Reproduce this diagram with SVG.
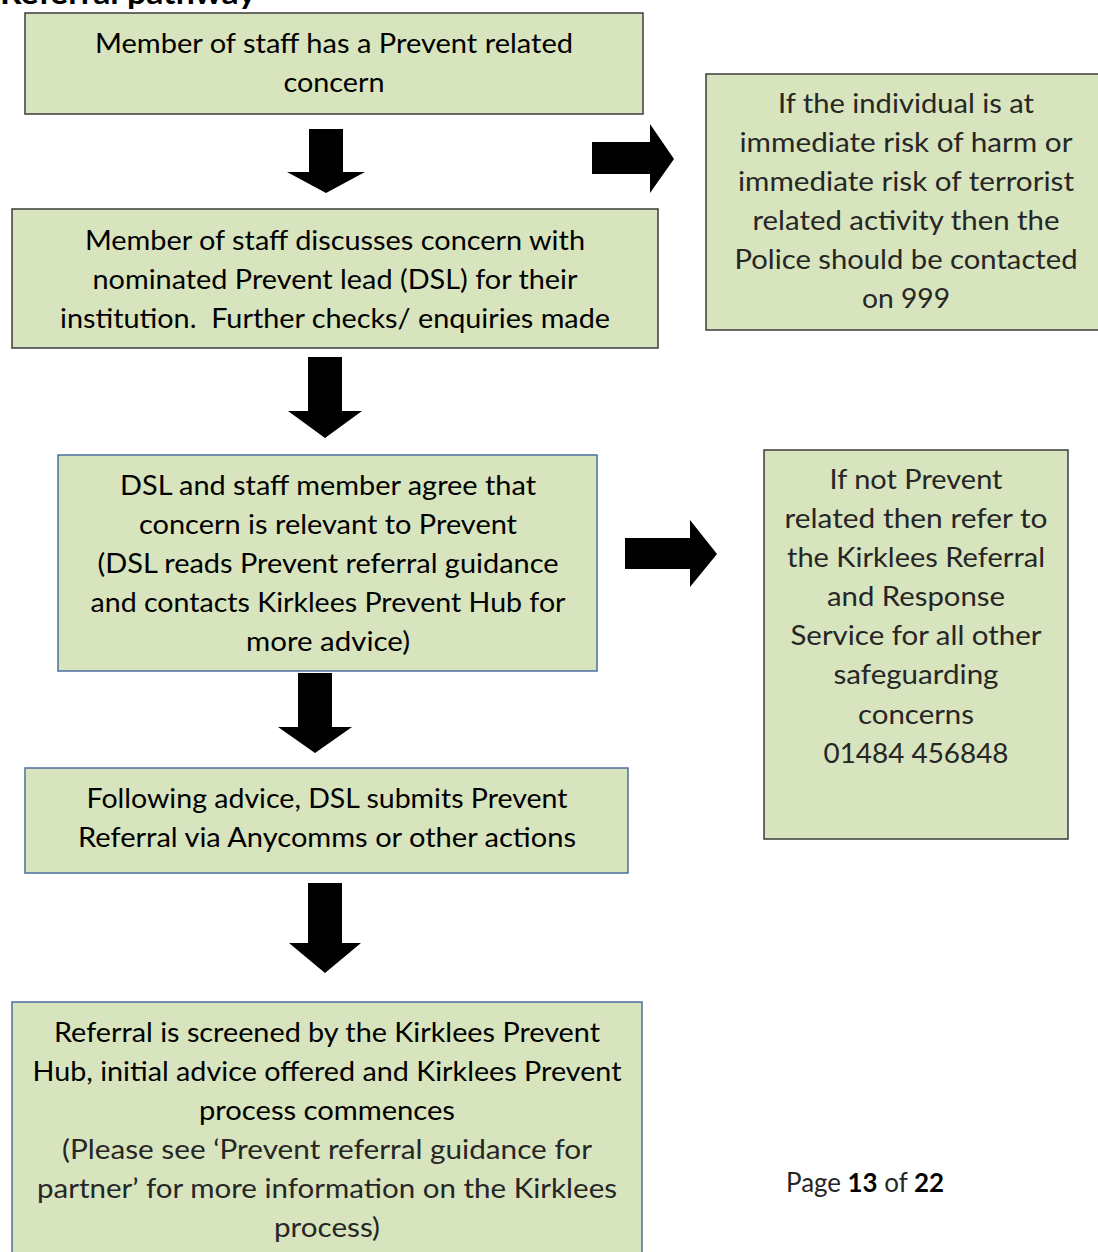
<svg xmlns="http://www.w3.org/2000/svg" width="1098" height="1252" viewBox="0 0 1098 1252">
<style>
.box{fill:#d7e4bd;stroke-width:1.5}
.dk{stroke:#3c3c3c}
.bl{stroke:#4a6fa0}
.t{font-family:Lato,"Open Sans","Liberation Sans",sans-serif;font-size:26px;fill:#000;text-anchor:middle}
.l{font-weight:400;fill:#262626}
.arrow{fill:#000}
</style>
<rect width="1098" height="1252" fill="#fff"/>
<text x="0" y="4" font-family="Lato,'Liberation Sans',sans-serif" font-weight="bold" font-size="30" textLength="256" lengthAdjust="spacingAndGlyphs">Referral pathway</text>

<g id="connectors">
<polygon class="arrow" points="309,129 343,129 343,172 365,172 326,193 287,172 309,172"/>
<polygon class="arrow" points="592,142 650,142 650,124 674,159 650,193 650,174 592,174"/>
<polygon class="arrow" points="308,357 342,357 342,411 362,411 325,438 288,411 308,411"/>
<polygon class="arrow" points="625,538 690,538 690,520 717,554 690,587 690,569 625,569"/>
<polygon class="arrow" points="298,673 332,673 332,727 352,727 315,753 278,727 298,727"/>
<polygon class="arrow" points="308,883 342,883 342,943 361,943 325,973 289,943 308,943"/>
</g>

<g id="n1">
<rect class="box dk" x="25" y="13" width="618" height="101"/>
<text class="t" x="334" y="53" textLength="478" lengthAdjust="spacingAndGlyphs">Member of staff has a Prevent related</text>
<text class="t" x="334" y="92" textLength="101" lengthAdjust="spacingAndGlyphs">concern</text>
</g>

<g id="n2">
<rect class="box dk" x="12" y="209" width="646" height="139"/>
<text class="t" x="335" y="250" textLength="500" lengthAdjust="spacingAndGlyphs">Member of staff discusses concern with</text>
<text class="t" x="335" y="289" textLength="485" lengthAdjust="spacingAndGlyphs">nominated Prevent lead (DSL) for their</text>
<text class="t" x="335" y="328" textLength="550" lengthAdjust="spacingAndGlyphs">institution.&#160; Further checks/ enquiries made</text>
</g>

<g id="n3">
<rect class="box dk" x="706" y="74" width="400" height="256"/>
<text class="t l" x="906" y="113" textLength="256" lengthAdjust="spacingAndGlyphs">If the individual is at</text>
<text class="t l" x="906" y="152" textLength="333" lengthAdjust="spacingAndGlyphs">immediate risk of harm or</text>
<text class="t l" x="906" y="191" textLength="336" lengthAdjust="spacingAndGlyphs">immediate risk of terrorist</text>
<text class="t l" x="906" y="230" textLength="307" lengthAdjust="spacingAndGlyphs">related activity then the</text>
<text class="t l" x="906" y="269" textLength="343" lengthAdjust="spacingAndGlyphs">Police should be contacted</text>
<text class="t l" x="906" y="308" textLength="88" lengthAdjust="spacingAndGlyphs">on 999</text>
</g>

<g id="n4">
<rect class="box bl" x="58" y="455" width="539" height="216"/>
<text class="t" x="328" y="495" textLength="416" lengthAdjust="spacingAndGlyphs">DSL and staff member agree that</text>
<text class="t" x="328" y="534" textLength="378" lengthAdjust="spacingAndGlyphs">concern is relevant to Prevent</text>
<text class="t" x="328" y="573" textLength="461" lengthAdjust="spacingAndGlyphs">(DSL reads Prevent referral guidance</text>
<text class="t" x="328" y="612" textLength="475" lengthAdjust="spacingAndGlyphs">and contacts Kirklees Prevent Hub for</text>
<text class="t" x="328" y="651" textLength="164" lengthAdjust="spacingAndGlyphs">more advice)</text>
</g>

<g id="n5">
<rect class="box dk" x="764" y="450" width="304" height="389"/>
<text class="t l" x="916" y="489" textLength="173" lengthAdjust="spacingAndGlyphs">If not Prevent</text>
<text class="t l" x="916" y="528" textLength="263" lengthAdjust="spacingAndGlyphs">related then refer to</text>
<text class="t l" x="916" y="567" textLength="258" lengthAdjust="spacingAndGlyphs">the Kirklees Referral</text>
<text class="t l" x="916" y="606" textLength="178" lengthAdjust="spacingAndGlyphs">and Response</text>
<text class="t l" x="916" y="645" textLength="251" lengthAdjust="spacingAndGlyphs">Service for all other</text>
<text class="t l" x="916" y="684" textLength="165" lengthAdjust="spacingAndGlyphs">safeguarding</text>
<text class="t l" x="916" y="724" textLength="116" lengthAdjust="spacingAndGlyphs">concerns</text>
<text class="t l" x="916" y="763" textLength="185" lengthAdjust="spacingAndGlyphs">01484 456848</text>
</g>

<g id="n6">
<rect class="box bl" x="25" y="768" width="603" height="105"/>
<text class="t" x="327" y="808" textLength="481" lengthAdjust="spacingAndGlyphs">Following advice, DSL submits Prevent</text>
<text class="t" x="327" y="847" textLength="498" lengthAdjust="spacingAndGlyphs">Referral via Anycomms or other actions</text>
</g>

<g id="n7">
<rect class="box bl" x="12" y="1002" width="630" height="260"/>
<text class="t" x="327" y="1042" textLength="546" lengthAdjust="spacingAndGlyphs">Referral is screened by the Kirklees Prevent</text>
<text class="t" x="327" y="1081" textLength="589" lengthAdjust="spacingAndGlyphs">Hub, initial advice offered and Kirklees Prevent</text>
<text class="t" x="327" y="1120" textLength="256" lengthAdjust="spacingAndGlyphs">process commences</text>
<text class="t l" x="327" y="1159" textLength="530" lengthAdjust="spacingAndGlyphs">(Please see ‘Prevent referral guidance for</text>
<text class="t l" x="327" y="1198" textLength="580" lengthAdjust="spacingAndGlyphs">partner’ for more information on the Kirklees</text>
<text class="t l" x="327" y="1237" textLength="106" lengthAdjust="spacingAndGlyphs">process)</text>
</g>

<text x="786" y="1192" font-family="Lato,'Liberation Sans',sans-serif" font-size="26" fill="#262626" textLength="158" lengthAdjust="spacingAndGlyphs">Page <tspan font-weight="bold" fill="#000">13</tspan> of <tspan font-weight="bold" fill="#000">22</tspan></text>
</svg>
